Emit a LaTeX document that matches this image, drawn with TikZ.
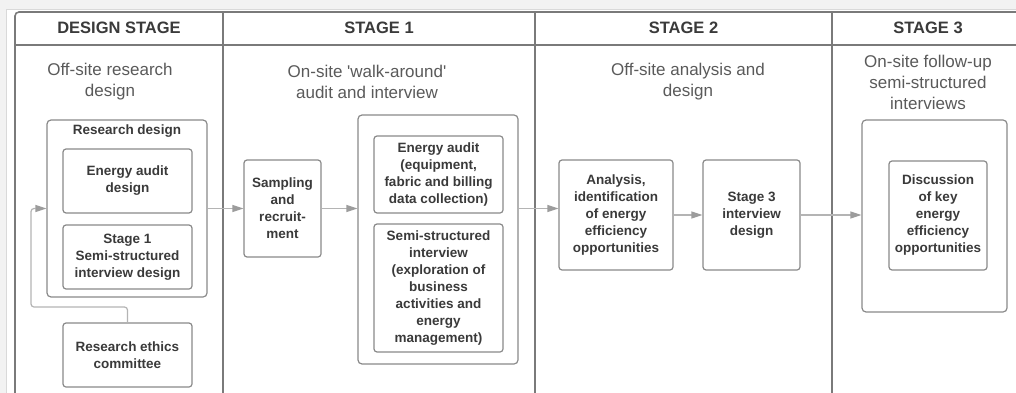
\documentclass[tikz,border=0pt]{standalone}
\usepackage{fontspec}
\setmainfont{Liberation Sans}
\usetikzlibrary{arrows.meta}
\definecolor{frame}{HTML}{7A7A7A}
\definecolor{boxline}{HTML}{8A8A8A}
\definecolor{flow}{HTML}{B4B4B4}
\definecolor{tip}{HTML}{9C9C9C}
\definecolor{ink}{HTML}{3A3A3A}
\definecolor{subink}{HTML}{5A5A5A}
\begin{document}
\begin{tikzpicture}[x=1pt, y=-1pt,
  box/.style = {draw=boxline, line width=1.2pt, rounded corners=3pt, align=center, text=ink, font=\bfseries\fontsize{13.5}{17}\selectfont, inner sep=1pt},
  group/.style = {draw=boxline, line width=1.2pt, rounded corners=4pt},
  head/.style = {text=ink, font=\bfseries\fontsize{16.5}{20}\selectfont},
  sub/.style = {text=subink, align=center, font=\fontsize{17}{21}\selectfont},
  arr/.style = {draw=flow, line width=1.2pt, -{Triangle[length=11pt, width=7pt, color=tip, fill=tip]}}]
\useasboundingbox (0,0) rectangle (1016,393);
\fill[black!5] (0,0) rectangle (1016,393);
\draw[black!15, fill=white] (6,9) rectangle (1020,400);

\draw[frame, line width=1.6pt, rounded corners=4pt] (15,400) -- (15,12) -- (1030,12);
\draw[frame, line width=1.6pt] (15,45) -- (1030,45);
\draw[frame, line width=1.6pt] (223,12) -- (223,400);
\draw[frame, line width=1.6pt] (535,12) -- (535,400);
\draw[frame, line width=1.6pt] (832,12) -- (832,400);

\node[head] (h0) at (119,28) {DESIGN STAGE};
\node[head] (h1) at (379,28) {STAGE 1};
\node[head] (h2) at (683.5,28) {STAGE 2};
\node[head] (h3) at (928,28) {STAGE 3};

\node[sub] (s0) at (110,82) {Off-site research\\design};
\node[sub] (s1) at (367,82) {On-site \textquotesingle walk-around\textquotesingle\\audit and interview};
\node[sub] (s2) at (688,82) {Off-site analysis and\\design};
\node[sub] (s3) at (928,82) {On-site follow-up\\semi-structured\\interviews};

\node[group, minimum width=160pt, minimum height=177pt] (rd) at (127,208.5) {};
\node[box, draw=none] (rdt) at (127,131) {Research design};
\node[box, minimum width=129pt, minimum height=64pt] (ead) at (127.5,181) {Energy audit\\design};
\node[box, minimum width=129pt, minimum height=64pt] (sid) at (127.5,257) {Stage 1\\Semi-structured\\interview design};
\node[box, minimum width=129pt, minimum height=64pt] (rec) at (127.5,355) {Research ethics\\committee};

\node[box, minimum width=77pt, minimum height=97pt] (samp) at (282.5,208.5) {Sampling\\and\\recruit-\\ment};
\node[group, minimum width=160pt, minimum height=249pt] (ob1) at (438,239.5) {};
\node[box, minimum width=129pt, minimum height=77pt] (ea) at (438.5,174.5) {Energy audit\\(equipment,\\fabric and billing\\data collection)};
\node[box, minimum width=129pt, minimum height=128pt] (ssi) at (438.5,288) {Semi-structured\\interview\\(exploration of\\business\\activities and\\energy\\management)};

\node[box, minimum width=114pt, minimum height=110pt] (ana) at (616,215) {Analysis,\\identification\\of energy\\efficiency\\opportunities};
\node[box, minimum width=97pt, minimum height=110pt] (s3d) at (751.5,215) {Stage 3\\interview\\design};

\node[group, minimum width=145pt, minimum height=192pt] (ob3) at (934.5,216) {};
\node[box, minimum width=98pt, minimum height=109pt] (disc) at (938,215.5) {Discussion\\of key\\energy\\efficiency\\opportunities};

\coordinate (bend) at (31,307);
\draw[arr, rounded corners=3pt] (rec.north) |- (bend) |- (rd.west);
\draw[arr] (rd.east) -- (samp.west);
\draw[arr] (samp.east) -- (samp.east -| ob1.west);
\draw[arr] (samp.east -| ob1.east) -- (samp.east -| ana.west);
\draw[arr] (ana.east) -- (s3d.west);
\draw[arr] (s3d.east) -- (s3d.east -| ob3.west);
\end{tikzpicture}
\end{document}
